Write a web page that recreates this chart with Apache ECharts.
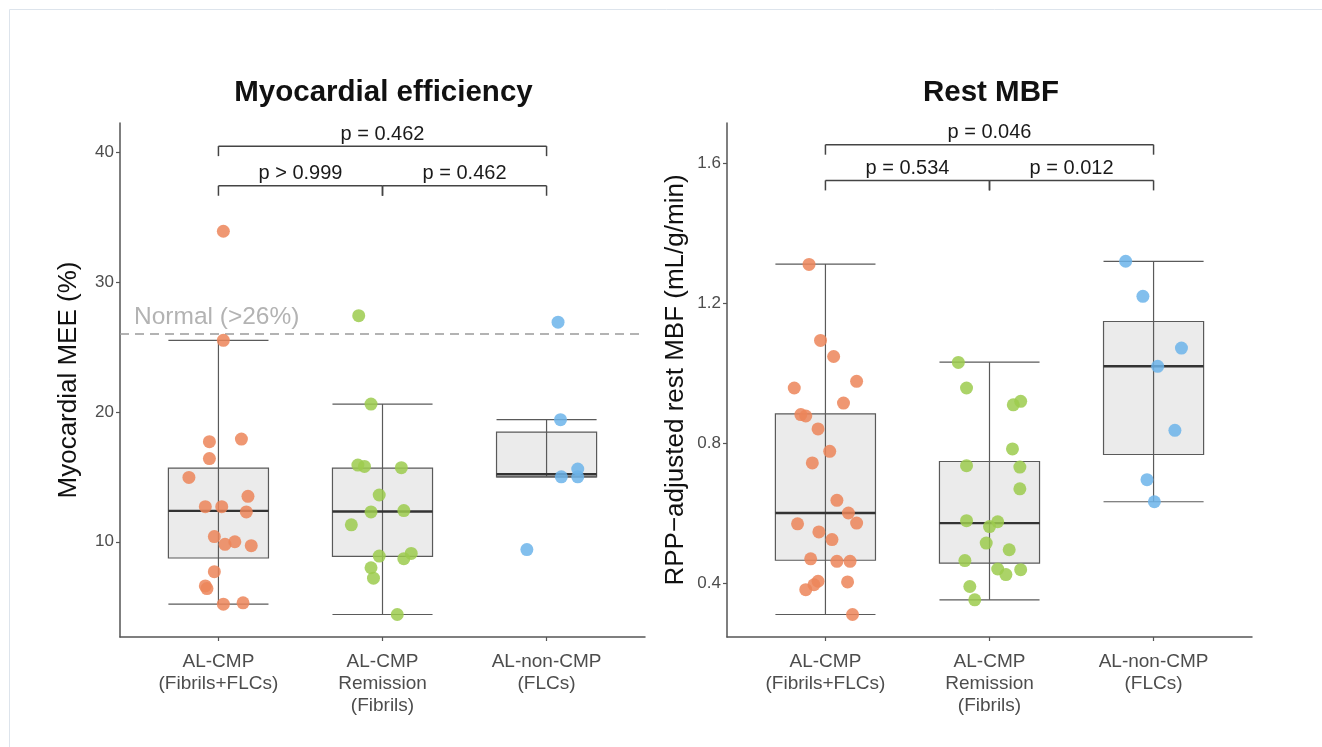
<!DOCTYPE html>
<html>
<head>
<meta charset="utf-8">
<title>Myocardial efficiency and rest MBF</title>
<script src="https://cdn.jsdelivr.net/npm/echarts@6/dist/echarts.min.js"></script>
<style>
  html, body { margin: 0; padding: 0; background: #ffffff; }
  #chart { width: 1322px; height: 747px; }
</style>
</head>
<body>
<div id="chart"></div>
<script>
// Groups shown on both panels
const categories = ['AL-CMP\n(Fibrils+FLCs)', 'AL-CMP\nRemission\n(Fibrils)', 'AL-non-CMP\n(FLCs)'];

// Myocardial MEE (%) per patient
const meeFibrilsFLC = [33.9, 25.5, 17.7, 17.9, 16.4, 14.95, 13.5, 12.7, 12.7, 12.3, 10.4, 9.8, 10.0, 9.7, 7.7, 6.6, 6.4, 5.2, 5.3];
const meeRemission = [27.4, 20.6, 15.9, 15.8, 15.7, 13.6, 12.3, 12.4, 11.3, 8.9, 9.1, 8.7, 8.0, 7.2, 4.4];
const meeNonCMP = [26.9, 19.4, 15.6, 15.0, 15.0, 9.4];

// RPP-adjusted rest MBF (mL/g/min) per patient
const mbfFibrilsFLC = [1.31, 1.093, 1.047, 0.976, 0.957, 0.914, 0.881, 0.877, 0.84, 0.776, 0.743, 0.636, 0.6, 0.571, 0.569, 0.546, 0.524, 0.469, 0.462, 0.462, 0.405, 0.395, 0.403, 0.381, 0.31];
const mbfRemission = [1.03, 0.957, 0.919, 0.909, 0.783, 0.735, 0.731, 0.669, 0.578, 0.575, 0.561, 0.514, 0.495, 0.464, 0.44, 0.424, 0.438, 0.39, 0.352];
const mbfNonCMP = [1.319, 1.219, 1.071, 1.019, 0.836, 0.695, 0.632];

// Horizontal jitter of each point (category units)
const meeFibrilsFLCJitter = [0.03, 0.03, -0.055, 0.14, -0.055, -0.18, 0.18, -0.08, 0.02, 0.17, -0.025, 0.04, 0.10, 0.2, -0.025, -0.08, -0.07, 0.03, 0.15];
const meeRemissionJitter = [-0.145, -0.07, -0.15, -0.11, 0.115, -0.02, -0.07, 0.13, -0.19, -0.02, 0.175, 0.13, -0.07, -0.055, 0.09];
const meeNonCMPJitter = [0.07, 0.085, 0.19, 0.09, 0.19, -0.12];
const mbfFibrilsFLCJitter = [-0.10, -0.03, 0.05, 0.19, -0.19, 0.11, -0.15, -0.12, -0.045, 0.026, -0.08, 0.07, 0.14, 0.19, -0.17, -0.04, 0.04, -0.09, 0.07, 0.15, -0.045, -0.07, 0.135, -0.12, 0.165];
const mbfRemissionJitter = [-0.19, -0.14, 0.19, 0.145, 0.14, -0.14, 0.185, 0.185, -0.14, 0.05, 0.0, -0.02, 0.12, -0.15, 0.05, 0.1, 0.19, -0.12, -0.09];
const mbfNonCMPJitter = [-0.17, -0.065, 0.17, 0.025, 0.13, -0.04, 0.005];

// Box statistics per group: [lower whisker, Q1, median, Q3, upper whisker]
const meeBoxStats = [
  [5.2, 8.75, 12.38, 15.67, 25.5],
  [4.4, 8.87, 12.33, 15.67, 20.6],
  [15.0, 15.0, 15.2, 18.44, 19.4]
];
const mbfBoxStats = [
  [0.31, 0.465, 0.6, 0.883, 1.311],
  [0.352, 0.457, 0.571, 0.747, 1.031],
  [0.632, 0.767, 1.019, 1.147, 1.319]
];

// Pairwise comparisons: [from group, to group, bracket height]
const meeBrackets = [[1, 2, 37.4], [2, 3, 37.4], [1, 3, 40.45]];
const meeBracketLabels = ['p > 0.999', 'p = 0.462', 'p = 0.462'];
const mbfBrackets = [[1, 2, 1.55], [2, 3, 1.55], [1, 3, 1.652]];
const mbfBracketLabels = ['p = 0.534', 'p = 0.012', 'p = 0.046'];

// Reference threshold for MEE
const meeNormalThreshold = 26;
const meeTicks = [10, 20, 30, 40];
const mbfTicks = [0.4, 0.8, 1.2, 1.6];

const FONT = '"Liberation Sans", Arial, Helvetica, sans-serif';
const COLORS = ['#EC8559', '#9CCB4E', '#6CB4EA'];
const BOX_WIDTH = 0.61;
const AXIS_COLOR = '#555555';

function pointData(values, jitter, group) {
  return values.map((v, i) => [group + jitter[i], v]);
}

function boxSeries(idx, stats) {
  return {
    type: 'custom',
    xAxisIndex: idx,
    yAxisIndex: idx,
    z: 2,
    silent: true,
    data: stats.map((s, i) => [i + 1].concat(s)),
    renderItem(params, api) {
      const x = api.value(0);
      const low = api.coord([x, api.value(1)]);
      const q1 = api.coord([x, api.value(2)]);
      const med = api.coord([x, api.value(3)]);
      const q3 = api.coord([x, api.value(4)]);
      const high = api.coord([x, api.value(5)]);
      const half = api.size([BOX_WIDTH, 0])[0] / 2;
      const cx = low[0];
      const ls = { stroke: '#5a5a5a', lineWidth: 1.2 };
      return {
        type: 'group',
        children: [
          { type: 'rect', shape: { x: cx - half, y: q3[1], width: 2 * half, height: q1[1] - q3[1] },
            style: { fill: '#ebebeb', stroke: '#5a5a5a', lineWidth: 1.2 } },
          { type: 'line', shape: { x1: cx, y1: high[1], x2: cx, y2: low[1] }, style: ls },
          { type: 'line', shape: { x1: cx - half, y1: high[1], x2: cx + half, y2: high[1] }, style: ls },
          { type: 'line', shape: { x1: cx - half, y1: low[1], x2: cx + half, y2: low[1] }, style: ls },
          { type: 'line', shape: { x1: cx - half, y1: med[1], x2: cx + half, y2: med[1] },
            style: { stroke: '#333333', lineWidth: 2.4 } }
        ]
      };
    }
  };
}

function bracketSeries(idx, brackets, labels) {
  return {
    type: 'custom',
    xAxisIndex: idx,
    yAxisIndex: idx,
    z: 4,
    silent: true,
    data: brackets,
    renderItem(params, api) {
      const a = api.coord([api.value(0), api.value(2)]);
      const b = api.coord([api.value(1), api.value(2)]);
      const tick = 10;
      const ls = { stroke: '#444444', lineWidth: 1.5 };
      return {
        type: 'group',
        children: [
          { type: 'line', shape: { x1: a[0], y1: a[1], x2: b[0], y2: b[1] }, style: ls },
          { type: 'line', shape: { x1: a[0], y1: a[1], x2: a[0], y2: a[1] + tick }, style: ls },
          { type: 'line', shape: { x1: b[0], y1: b[1], x2: b[0], y2: b[1] + tick }, style: ls },
          { type: 'text', x: (a[0] + b[0]) / 2, y: a[1] - 12,
            style: { text: labels[params.dataIndex], fontSize: 20, fontFamily: FONT, fill: '#1a1a1a',
                     align: 'center', verticalAlign: 'middle' } }
        ]
      };
    }
  };
}

function scatterSeries(idx, values, jitter, group) {
  return {
    type: 'scatter',
    xAxisIndex: idx,
    yAxisIndex: idx,
    z: 5,
    symbolSize: 13,
    itemStyle: { color: COLORS[group - 1], opacity: 0.85 },
    data: pointData(values, jitter, group)
  };
}

function xAxis(idx) {
  return {
    type: 'value',
    gridIndex: idx,
    min: 0.4,
    max: 3.6,
    splitLine: { show: false },
    axisLine: { show: true, onZero: false, lineStyle: { color: AXIS_COLOR, width: 1.5 } },
    axisTick: { show: true, customValues: [1, 2, 3], length: 4, lineStyle: { color: AXIS_COLOR, width: 1.2 } },
    axisLabel: {
      customValues: [1, 2, 3],
      formatter: v => categories[Math.round(v) - 1],
      fontSize: 19, lineHeight: 22, color: '#4d4d4d', fontFamily: FONT, margin: 14
    }
  };
}

function yAxis(idx, min, max, ticks, name, fmt) {
  return {
    type: 'value',
    gridIndex: idx,
    min: min,
    max: max,
    name: name,
    nameLocation: 'middle',
    nameGap: 38,
    nameTextStyle: { fontSize: 26, color: '#111111', fontFamily: FONT },
    splitLine: { show: false },
    axisLine: { show: true, onZero: false, lineStyle: { color: AXIS_COLOR, width: 1.5 } },
    axisTick: { show: true, customValues: ticks, length: 4, lineStyle: { color: AXIS_COLOR, width: 1.2 } },
    axisLabel: { customValues: ticks, formatter: fmt, fontSize: 17, color: '#4d4d4d', fontFamily: FONT, margin: 6 }
  };
}

const meeLeft = scatterSeries(0, meeFibrilsFLC, meeFibrilsFLCJitter, 1);
meeLeft.markLine = {
  silent: true,
  symbol: 'none',
  animation: false,
  data: [{ yAxis: meeNormalThreshold }],
  lineStyle: { type: [9, 6], color: '#9a9a9a', width: 1.6 },
  label: {
    show: true,
    position: 'insideStartTop',
    formatter: 'Normal (>26%)',
    fontSize: 24.5,
    color: '#b3b3b3',
    fontFamily: FONT,
    distance: [14, 4]
  }
};

const option = {
  animation: false,
  backgroundColor: '#ffffff',
  grid: [
    { left: 120, width: 525, top: 123, bottom: 110 },
    { left: 727, width: 525, top: 123, bottom: 110 }
  ],
  xAxis: [xAxis(0), xAxis(1)],
  yAxis: [
    yAxis(0, 2.67, 42.23, meeTicks, 'Myocardial MEE (%)', v => String(Math.round(v))),
    yAxis(1, 0.2457, 1.714, mbfTicks, 'RPP\u2212adjusted rest MBF (mL/g/min)', v => v.toFixed(1))
  ],
  graphic: [
    { type: 'rect', silent: true, z: -10, shape: { x: 9.5, y: 9.5, width: 1400, height: 800 },
      style: { fill: 'none', stroke: '#dde4ec', lineWidth: 1 } },
    { type: 'text', x: 383.5, y: 93, silent: true,
      style: { text: 'Myocardial efficiency', fontSize: 29.5, fontWeight: 'bold', fontFamily: FONT, fill: '#111111',
               align: 'center', verticalAlign: 'middle' } },
    { type: 'text', x: 991, y: 93, silent: true,
      style: { text: 'Rest MBF', fontSize: 29.5, fontWeight: 'bold', fontFamily: FONT, fill: '#111111',
               align: 'center', verticalAlign: 'middle' } }
  ],
  series: [
    boxSeries(0, meeBoxStats),
    boxSeries(1, mbfBoxStats),
    bracketSeries(0, meeBrackets, meeBracketLabels),
    bracketSeries(1, mbfBrackets, mbfBracketLabels),
    meeLeft,
    scatterSeries(0, meeRemission, meeRemissionJitter, 2),
    scatterSeries(0, meeNonCMP, meeNonCMPJitter, 3),
    scatterSeries(1, mbfFibrilsFLC, mbfFibrilsFLCJitter, 1),
    scatterSeries(1, mbfRemission, mbfRemissionJitter, 2),
    scatterSeries(1, mbfNonCMP, mbfNonCMPJitter, 3)
  ]
};

const chart = echarts.init(document.getElementById('chart'), null, { renderer: 'canvas' });
chart.setOption(option);
</script>
</body>
</html>
